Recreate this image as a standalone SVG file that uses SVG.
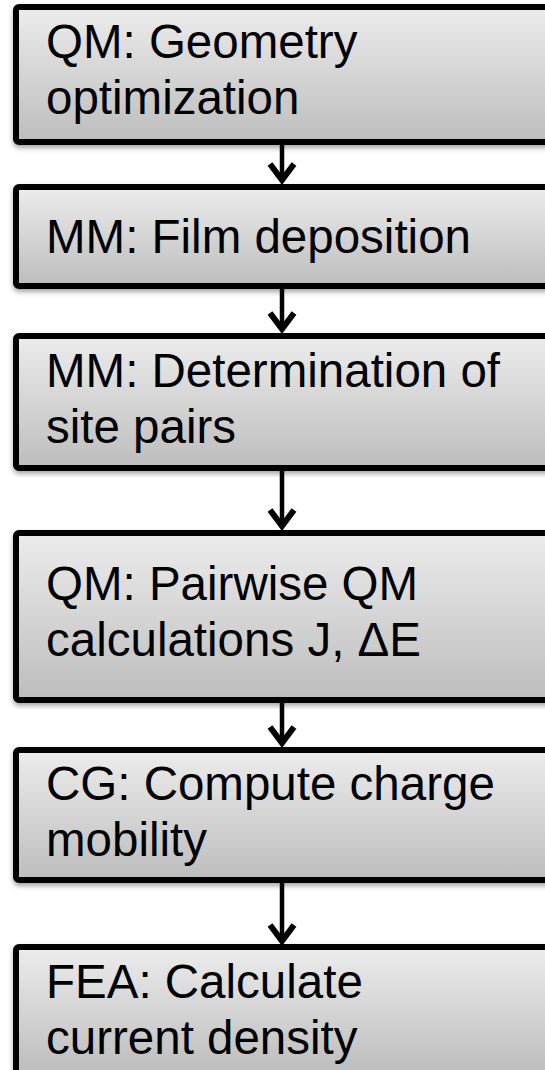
<svg xmlns="http://www.w3.org/2000/svg" width="545" height="1070" viewBox="0 0 545 1070">
<style>
.box{fill:url(#g);stroke:#000;stroke-width:6;filter:url(#sh)}
.t{font-family:"Liberation Sans",Arial,sans-serif;font-size:47.5px;fill:#000}
.c{stroke:#000;stroke-width:4.5;fill:none}
.h{stroke:#000;stroke-width:6;fill:none;stroke-linecap:butt;stroke-linejoin:miter}
</style>
<defs>
<linearGradient id="g" x1="0" y1="0" x2="0" y2="1">
<stop offset="0" stop-color="#ececec"/>
<stop offset="1" stop-color="#bdbdbd"/>
</linearGradient>
<filter id="sh" x="-10%" y="-10%" width="120%" height="130%">
<feDropShadow dx="0" dy="3" stdDeviation="2.5" flood-color="#000" flood-opacity="0.35"/>
</filter>
</defs>
<rect width="545" height="1070" fill="#fff"/>
<g id="connectors">
<path class="c" d="M282 145V180"/><path class="h" d="M270 164L282 180L294 164"/>
<path class="c" d="M282 289V329"/><path class="h" d="M270 313L282 329L294 313"/>
<path class="c" d="M282 471V526"/><path class="h" d="M270 510L282 526L294 510"/>
<path class="c" d="M282 703V743"/><path class="h" d="M270 727L282 743L294 727"/>
<path class="c" d="M282 883V941"/><path class="h" d="M270 925L282 941L294 925"/>
</g>
<g id="n1"><rect class="box" x="16" y="7" width="560" height="135" rx="3"/>
<text class="t" x="46" y="58">QM: Geometry</text><text class="t" x="46" y="114">optimization</text></g>
<g id="n2"><rect class="box" x="16" y="187" width="560" height="99" rx="3"/>
<text class="t" x="46" y="253">MM: Film deposition</text></g>
<g id="n3"><rect class="box" x="16" y="336" width="560" height="132" rx="3"/>
<text class="t" x="46" y="387">MM: Determination of</text><text class="t" x="46" y="443">site pairs</text></g>
<g id="n4"><rect class="box" x="16" y="533" width="560" height="167" rx="3"/>
<text class="t" x="46" y="600">QM: Pairwise QM</text><text class="t" x="46" y="656">calculations J, ΔE</text></g>
<g id="n5"><rect class="box" x="16" y="750" width="560" height="130" rx="3"/>
<text class="t" x="46" y="800">CG: Compute charge</text><text class="t" x="46" y="856">mobility</text></g>
<g id="n6"><rect class="box" x="16" y="947" width="560" height="126" rx="3"/>
<text class="t" x="46" y="998">FEA: Calculate</text><text class="t" x="46" y="1054">current density</text></g>
</svg>
